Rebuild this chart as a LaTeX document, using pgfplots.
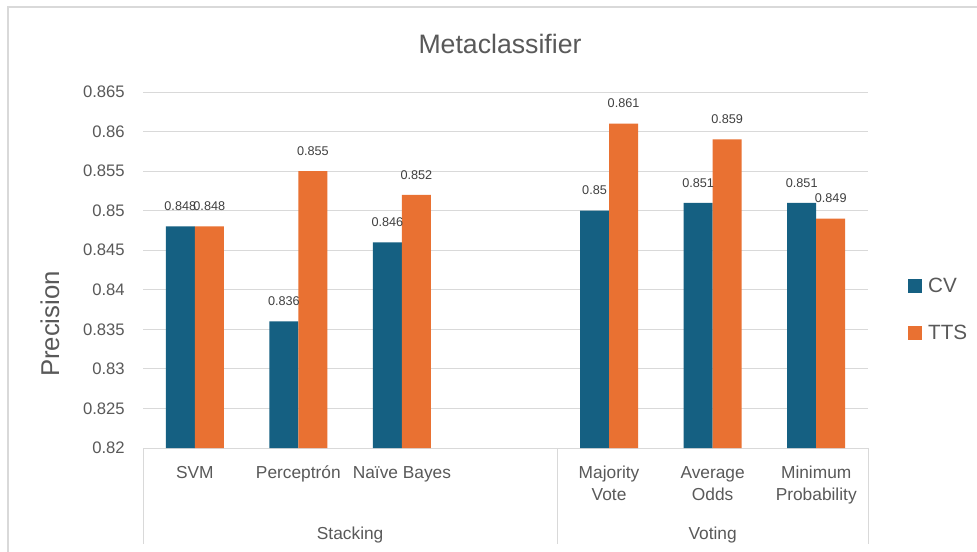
\documentclass[border=0pt]{standalone}
\usepackage{fontspec}
\setmainfont{Liberation Sans}
\usepackage{pgfplots}
\pgfplotsset{compat=1.18}
\definecolor{cvc}{HTML}{156082}
\definecolor{ttsc}{HTML}{E97132}
\definecolor{gridc}{HTML}{D9D9D9}
\definecolor{txt}{HTML}{595959}
\definecolor{lbl}{HTML}{404040}
\begin{document}
\begin{tikzpicture}
\useasboundingbox (0,0) rectangle (732.75pt,-414pt);
\fill[white] (0,0) rectangle (732.75pt,-414pt);
\draw[gridc, line width=0.9pt] (6pt,-420pt) -- (6pt,-5.25pt) -- (740pt,-5.25pt);
\begin{axis}[
  name=ax,
  at={(107.25pt,-336pt)}, anchor=south west,
  scale only axis, width=543.75pt, height=267pt,
  ybar=0pt, bar width=21.75pt,
  xmin=-0.5, xmax=6.5, ymin=0.82, ymax=0.865,
  xtick={0,1,2,4,5,6},
  xticklabels={\strut SVM,\strut Perceptrón,\strut Naïve Bayes,{\strut Majority\\Vote},{\strut Average\\Odds},{\strut Minimum\\Probability}},
  ytick={0.82,0.825,0.83,0.835,0.84,0.845,0.85,0.855,0.86,0.865},
  yticklabels={0.82,0.825,0.83,0.835,0.84,0.845,0.85,0.855,0.86,0.865},
  axis lines*=left,
  y axis line style={draw=none},
  x axis line style={gridc, line width=0.75pt},
  major tick length=0pt,
  ymajorgrids, grid style={gridc, line width=0.75pt},
  xticklabel style={font=\fontsize{13}{16.5}\selectfont, text=txt, align=center, anchor=north, inner sep=0pt, yshift=-11.1pt},
  yticklabel style={font=\fontsize{12.5}{15}\selectfont, text=txt, anchor=east, inner sep=0pt, xshift=-13.5pt},
  point meta=explicit symbolic,
  nodes near coords,
  nodes near coords style={font=\fontsize{9.5}{11}\selectfont, text=lbl, inner sep=0pt, anchor=south, yshift=11.5pt},
  legend style={draw=none, fill=none, at={(1.055,0.3905)}, anchor=west, inner sep=0pt,
    font=\fontsize{15.5}{18}\selectfont, text=txt, row sep=23.6pt,
    nodes={inner sep=0pt, text height=11.2pt, text depth=0pt},
    /tikz/every odd column/.append style={column sep=4.5pt}},
  legend cell align=left,
  legend image code/.code={\fill[#1] (0pt,-6pt) rectangle (10.5pt,4.5pt);},
]
\addplot[fill=cvc, draw=none] coordinates {(0,0.848)[0.848] (1,0.836)[0.836] (2,0.846)[0.846] (4,0.850)[0.85] (5,0.851)[0.851] (6,0.851)[0.851]};
\addplot[fill=ttsc, draw=none] coordinates {(0,0.848)[0.848] (1,0.855)[0.855] (2,0.852)[0.852] (4,0.861)[0.861] (5,0.859)[0.859] (6,0.849)[0.849]};
\legend{CV,TTS}
\end{axis}
\draw[gridc, line width=0.75pt] (ax.south west) -- ++(0,-72pt);
\draw[gridc, line width=0.75pt] ([xshift=310.71pt]ax.south west) -- ++(0,-72pt);
\draw[gridc, line width=0.75pt] (ax.south east) -- ++(0,-72pt);
\node[anchor=base, inner sep=0pt, font=\fontsize{13}{16.5}\selectfont, text=txt] at ([xshift=155.36pt,yshift=-68.25pt]ax.south west) {Stacking};
\node[anchor=base, inner sep=0pt, font=\fontsize{13}{16.5}\selectfont, text=txt] at ([xshift=427.23pt,yshift=-68.25pt]ax.south west) {Voting};
\node[font=\fontsize{20}{24}\selectfont, text=txt, inner sep=0pt] at (375pt,-33pt) {Metaclassifier};
\node[rotate=90, font=\fontsize{19.3}{23}\selectfont, text=txt, inner sep=0pt] at (37.5pt,-243pt) {Precision};
\end{tikzpicture}
\end{document}
